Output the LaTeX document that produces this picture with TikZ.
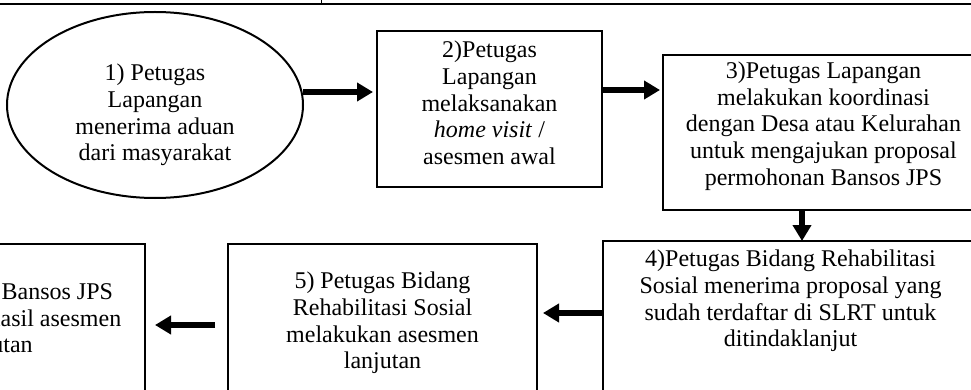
\documentclass[tikz,border=0pt]{standalone}
\usepackage{fontspec}
\setmainfont{Liberation Serif}
\usetikzlibrary{shapes.geometric,arrows.meta,positioning}

\begin{document}
\begin{tikzpicture}[
    x=1pt, y=-1pt,
    block/.style={draw, line width=2pt, rectangle, outer sep=0pt},
    oval/.style={draw, line width=2pt, ellipse, inner sep=0pt, outer sep=0pt},
    caption/.style={align=center, font=\fontsize{24}{26.7}\selectfont, inner sep=0pt},
    arrow/.style={-{Triangle[length=16pt, width=18pt]}, line width=5.5pt}
]
\useasboundingbox (0,0) rectangle (971,390);
\clip (0,0) rectangle (971,390);

% Table rules
\draw[line width=2pt] (0,4) -- (971,4);
\draw[line width=0.8pt] (321,0) -- (321,4);

% Top row
\node[oval, minimum width=296pt, minimum height=186pt] (complaint) at (155,105) {};
\node[block, minimum width=225pt, minimum height=156pt, right=74pt of complaint, yshift=-4pt] (visit) {};
\node[block, minimum width=321pt, minimum height=155pt, right=61pt of visit, yshift=-23.5pt] (consult) {};

% Bottom row
\node[block, minimum width=375pt, minimum height=200pt, below=31pt of consult, xshift=-33pt] (review) {};
\node[block, minimum width=309pt, minimum height=158pt, left=66pt of review, yshift=18pt] (assess) {};
\node[block, minimum width=302pt, minimum height=153pt, left=83pt of assess, yshift=2.5pt] (disburse) {};

% Texts
\node[caption] (complainttext) at ([yshift=-10pt]complaint.center) {1) Petugas\\ Lapangan\\ menerima aduan\\ dari masyarakat};
\node[caption] (visittext) at ([yshift=6pt]visit.center) {2)Petugas\\ Lapangan\\ melaksanakan\\ \textit{home visit} /\\ asesmen awal};
\node[caption] (consulttext) at ([yshift=6.5pt]consult.center) {3)Petugas Lapangan\\ melakukan koordinasi\\ dengan Desa atau Kelurahan\\ untuk mengajukan proposal\\ permohonan Bansos JPS};
\node[caption] (reviewtext) at ([yshift=40pt]review.center) {4)Petugas Bidang Rehabilitasi\\ Sosial menerima proposal yang\\ sudah terdaftar di SLRT untuk\\ ditindaklanjut};
\node[caption] (assesstext) at (assess.center) {5) Petugas Bidang\\ Rehabilitasi Sosial\\ melakukan asesmen\\ lanjutan};
\node[caption] (disbursetext) at (disburse.center) {6) Pencairan Bansos JPS\\ berdasarkan hasil asesmen\\ lanjutan};

% Arrows
\draw[arrow, shorten >=4pt] ([yshift=13pt]complaint.east) -- ([yshift=17pt]visit.west);
\draw[arrow, shorten >=3pt] ([yshift=19pt]visit.east) -- ([yshift=42.5pt]consult.west);
\draw[arrow] ([xshift=-21.5pt]consult.south) -- ([xshift=11.5pt]review.north);
\draw[arrow, shorten >=6pt] ([yshift=28pt]review.west) -- ([yshift=10pt]assess.east);
\draw[arrow, shorten <=13pt, shorten >=10pt] ([yshift=-2pt]assess.west) -- ([yshift=-4.5pt]disburse.east);
\end{tikzpicture}
\end{document}
